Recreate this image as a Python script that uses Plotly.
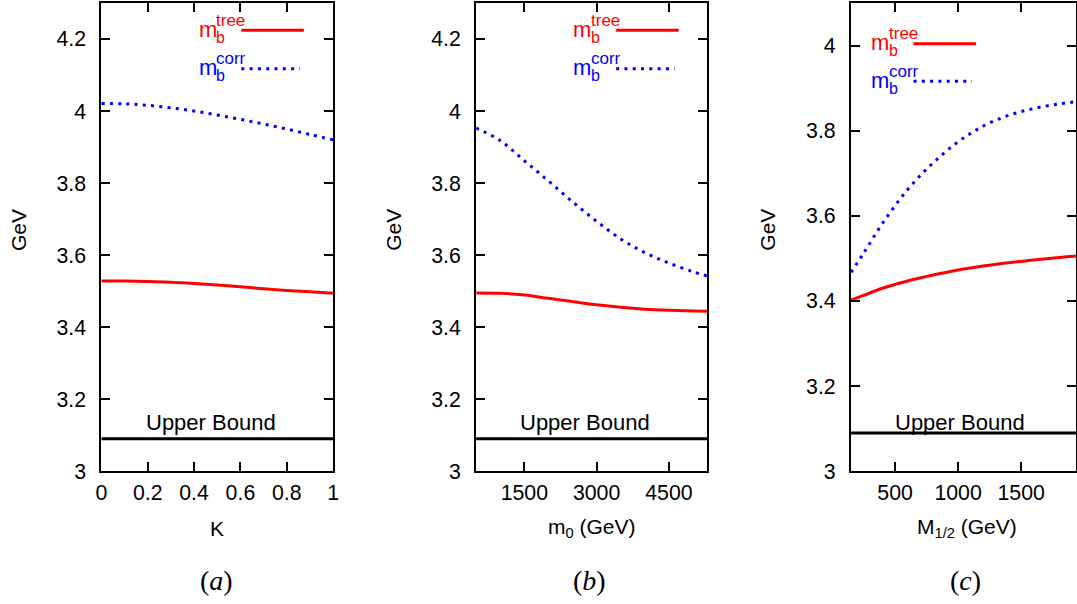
import plotly.graph_objects as go

# ---------------- data ----------------
K = [0.0, 0.1, 0.2, 0.3, 0.4, 0.5, 0.6, 0.7, 0.8, 0.9, 1.0]
tree_a = [3.528, 3.528, 3.527, 3.525, 3.521, 3.517, 3.512, 3.507, 3.502, 3.498, 3.494]
corr_a = [4.021, 4.020, 4.016, 4.009, 4.000, 3.989, 3.977, 3.964, 3.950, 3.935, 3.920]

m0 = [500, 1000, 1500, 2000, 2500, 3000, 3500, 4000, 4500, 5000, 5300]
tree_b = [3.495, 3.494, 3.489, 3.480, 3.471, 3.462, 3.455, 3.450, 3.447, 3.445, 3.444]
corr_b = [3.953, 3.918, 3.862, 3.806, 3.748, 3.694, 3.645, 3.607, 3.578, 3.554, 3.542]

m12 = [150, 250, 400, 600, 800, 1000, 1200, 1400, 1600, 1800, 2000]
tree_c = [3.402, 3.413, 3.430, 3.447, 3.461, 3.473, 3.482, 3.490, 3.496, 3.502, 3.507]
corr_c = [3.467, 3.512, 3.582, 3.662, 3.724, 3.774, 3.811, 3.836, 3.852, 3.863, 3.870]

upper_bound = 3.09

xticks_a = [0, 0.2, 0.4, 0.6, 0.8, 1]
xlabels_a = ["0", "0.2", "0.4", "0.6", "0.8", "1"]
xticks_b = [1500, 3000, 4500]
xticks_c = [500, 1000, 1500, 2000]
yticks_ab = [3.0, 3.2, 3.4, 3.6, 3.8, 4.0, 4.2]
ylabels_ab = ["3", "3.2", "3.4", "3.6", "3.8", "4", "4.2"]
yticks_c = [3.0, 3.2, 3.4, 3.6, 3.8, 4.0]
ylabels_c = ["3", "3.2", "3.4", "3.6", "3.8", "4"]

# ---------------- layout helpers ----------------
W, H = 1082, 616          # rendered canvas (photographed into 1077x604)
SX, SY = 1 / 0.996, 1 / 0.98
FONT = "Arial"
SERIF = "Liberation Serif"
RED = "#ff0000"
BLUE = "#0000ff"


def px(x):
    return min(x * SX / W, 1.0)


def py(y):
    return 1 - y * SY / H


panels = [
    dict(x=K, tree=tree_a, corr=corr_a, xr=[0, 1], yr=[3, 4.3], xt=xticks_a, xl=xlabels_a,
         yt=yticks_ab, yl=ylabels_ab, title="K", cap="(<i>a</i>)", L=96, R=329.5,
         leg_dx=99, leg_y=(30.3, 68.7), capx=212),
    dict(x=m0, tree=tree_b, corr=corr_b, xr=[500, 5300], yr=[3, 4.3], xt=xticks_b,
         xl=[str(v) for v in xticks_b], yt=yticks_ab, yl=ylabels_ab,
         title="m<sub>0</sub> (GeV)", cap="(<i>b</i>)", L=473.5, R=706.5,
         leg_dx=99, leg_y=(30.3, 68.7), capx=588),
    dict(x=m12, tree=tree_c, corr=corr_c, xr=None, yr=[3, 4.1], xt=xticks_c,
         xl=[str(v) for v in xticks_c], yt=yticks_c, yl=ylabels_c,
         title="M<sub>1/2</sub> (GeV)", cap="(<i>c</i>)", L=851, R=1086,
         leg_dx=21, leg_y=(43.7, 81.3), capx=966),
]
# panel (c) is cut by the page edge: the axis ends where the canvas ends
c_edge = W / SX
panels[2]["xr"] = [150, 150 + (c_edge - 851) / 63.5 * 500]
panels[2]["R"] = c_edge

TOP, BOT = 3, 471

fig = go.Figure()
annotations = []
shapes = []

for i, p in enumerate(panels, start=1):
    xa = "x" if i == 1 else f"x{i}"
    ya = "y" if i == 1 else f"y{i}"
    fig.add_trace(go.Scatter(x=p["xr"], y=[upper_bound, upper_bound], mode="lines",
                             line=dict(color="black", width=3), xaxis=xa, yaxis=ya,
                             showlegend=False, hoverinfo="skip"))
    fig.add_trace(go.Scatter(x=p["x"], y=p["tree"], mode="lines",
                             line=dict(color=RED, width=3, shape="spline"),
                             xaxis=xa, yaxis=ya, showlegend=False, name="m_b tree"))
    fig.add_trace(go.Scatter(x=p["x"], y=p["corr"], mode="lines",
                             line=dict(color=BLUE, width=3, dash="3px,5.3px", shape="spline"),
                             xaxis=xa, yaxis=ya, showlegend=False, name="m_b corr"))

    axis_common = dict(showline=True, linewidth=2, linecolor="black", mirror="ticks",
                       ticks="inside", ticklen=9, tickwidth=1.5, tickcolor="black",
                       showgrid=False, zeroline=False,
                       tickfont=dict(family=FONT, size=21.3, color="black"))
    fig.update_layout(**{
        ("xaxis" if i == 1 else f"xaxis{i}"): dict(
            domain=[px(p["L"]), px(p["R"])], range=p["xr"], anchor=ya,
            tickmode="array", tickvals=p["xt"], ticktext=p["xl"],
            ticklabelstandoff=1, **axis_common),
        ("yaxis" if i == 1 else f"yaxis{i}"): dict(
            domain=[py(BOT), py(TOP)], range=p["yr"], anchor=xa,
            tickmode="array", tickvals=p["yt"], ticktext=p["yl"],
            ticklabelstandoff=9, **axis_common),
    })

    L = p["L"]
    annotations.append(dict(x=px(L - 84), y=py(230), xref="paper", yref="paper",
                            text="GeV", textangle=-90, showarrow=False,
                            font=dict(family=FONT, size=21, color="black"),
                            xanchor="center", yanchor="middle"))
    annotations.append(dict(x=px(L + 117), y=py(528),
                            xref="paper", yref="paper", text=p["title"], showarrow=False,
                            font=dict(family=FONT, size=21, color="black"),
                            xanchor="center", yanchor="middle"))
    annotations.append(dict(x=px(p["capx"]), y=py(580), xref="paper", yref="paper",
                            text=p["cap"], showarrow=False,
                            font=dict(family=SERIF, size=28, color="black"),
                            xanchor="center", yanchor="middle"))
    annotations.append(dict(x=px(L + 110), y=py(422), xref="paper", yref="paper",
                            text="Upper Bound", showarrow=False,
                            font=dict(family=FONT, size=22, color="black"),
                            xanchor="center", yanchor="middle"))

    for (sup, col, ly, dash, llen) in [("tree", RED, p["leg_y"][0], None, 63),
                                        ("corr", BLUE, p["leg_y"][1], "3px,5.3px", 59)]:
        mx = L + p["leg_dx"]
        annotations.append(dict(x=px(mx), y=py(ly + 6.5 - 0.35 * 22), xref="paper",
                                yref="paper", text="m", showarrow=False,
                                font=dict(family=FONT, size=22, color=col),
                                xanchor="left", yanchor="middle", xshift=-3))
        annotations.append(dict(x=px(mx + 18), y=py(ly + 12.7 - 0.35 * 16), xref="paper",
                                yref="paper", text="b", showarrow=False,
                                font=dict(family=FONT, size=16, color=col),
                                xanchor="left", yanchor="middle", xshift=-3))
        annotations.append(dict(x=px(mx + 18), y=py(ly - 4.3 - 0.35 * 17), xref="paper",
                                yref="paper", text=sup, showarrow=False,
                                font=dict(family=FONT, size=17, color=col),
                                xanchor="left", yanchor="middle", xshift=-3))
        x0 = mx + 42
        line = dict(color=col, width=3)
        if dash:
            line["dash"] = dash
        shapes.append(dict(type="line", xref="paper", yref="paper",
                           x0=px(x0), x1=px(x0 + llen), y0=py(ly), y1=py(ly),
                           line=line))

fig.update_layout(width=W, height=H, margin=dict(l=0, r=0, t=0, b=0),
                  paper_bgcolor="white", plot_bgcolor="white",
                  annotations=annotations, shapes=shapes, showlegend=False,
                  font=dict(family=FONT, color="black"))

fig.write_html("out.html", config={"displayModeBar": False},
               post_script="document.body.style.margin='0';"
                           "document.body.style.overflow='hidden';")
